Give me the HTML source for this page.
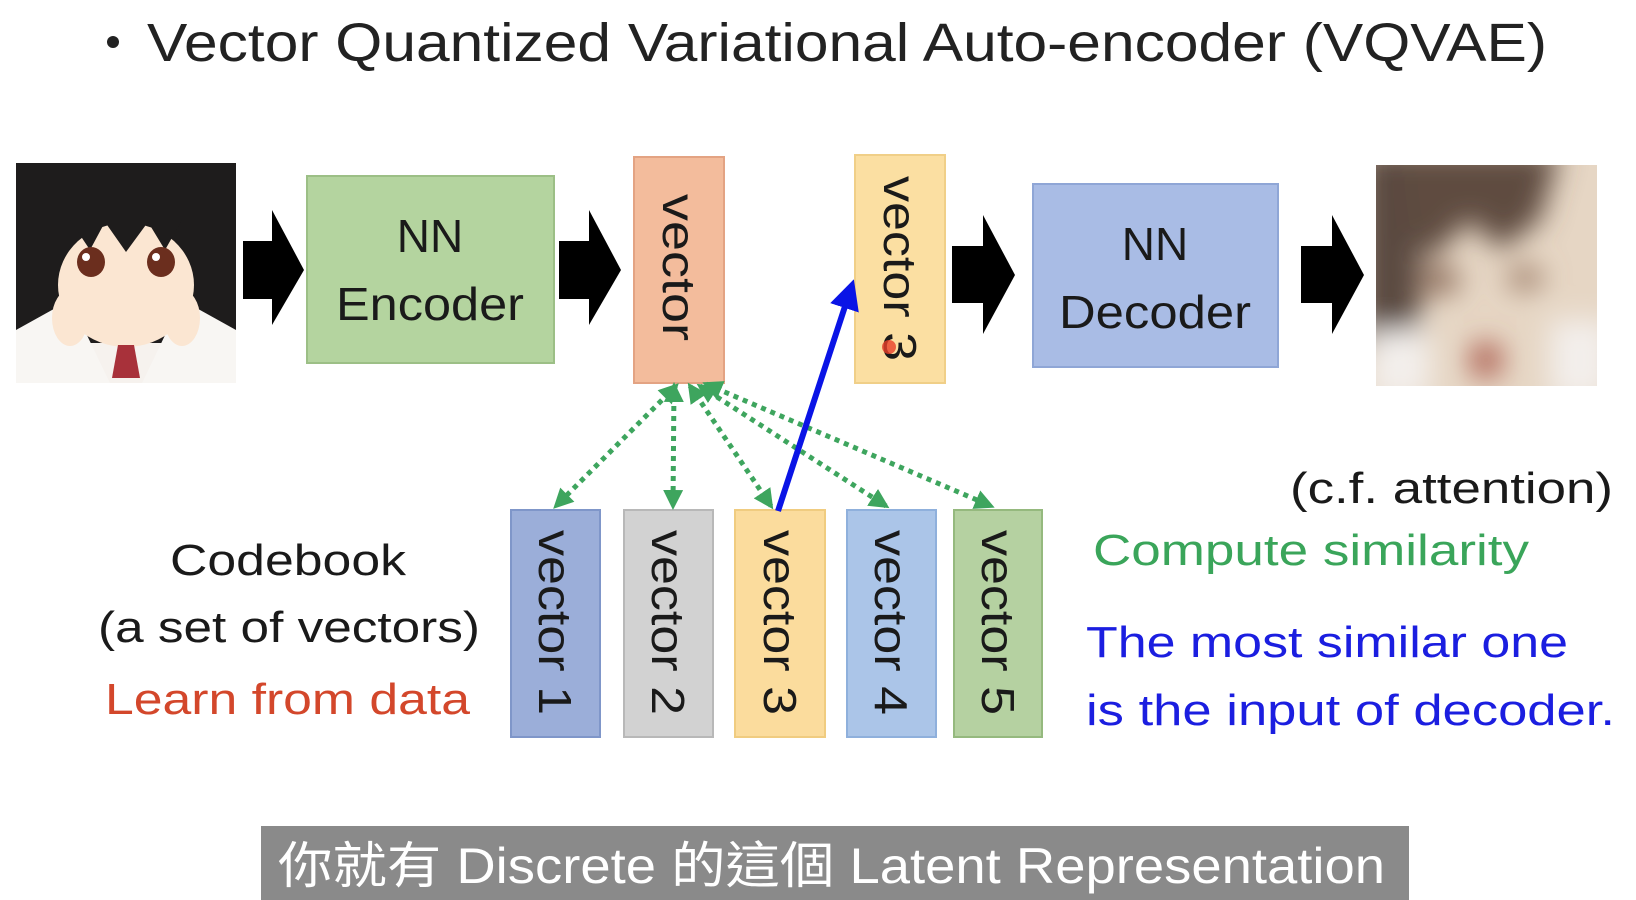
<!DOCTYPE html>
<html><head><meta charset="utf-8"><style>
html,body{margin:0;padding:0;background:#fff;}
svg{display:block;}
text{font-family:"Liberation Sans","Noto Sans CJK TC",sans-serif;}
</style></head><body>
<svg width="1636" height="900" viewBox="0 0 1636 900" xmlns="http://www.w3.org/2000/svg">
<defs>
<filter id="bl" x="-20%" y="-20%" width="140%" height="140%"><feGaussianBlur stdDeviation="14"/></filter>
<marker id="ga" viewBox="0 0 10 10" refX="8" refY="5" markerWidth="4" markerHeight="4" orient="auto-start-reverse"><path d="M0,0 L10,5 L0,10 z" fill="#3ea55e"/></marker>
<marker id="ba" viewBox="0 0 10 10" refX="8" refY="5" markerWidth="5" markerHeight="5" orient="auto"><path d="M0,0 L10,5 L0,10 z" fill="#0a14e6"/></marker>
<clipPath id="cpa"><rect x="16" y="163" width="220" height="220"/></clipPath>
<clipPath id="cp"><rect x="1376" y="165" width="221" height="221"/></clipPath>
</defs>

<!-- title -->
<circle cx="113" cy="42" r="6" fill="#222"/>
<text x="147" y="61" font-size="54" fill="#222" textLength="1400" lengthAdjust="spacingAndGlyphs">Vector Quantized Variational Auto-encoder (VQVAE)</text>

<!-- input image (approx) -->
<g clip-path="url(#cpa)">
<rect x="16" y="163" width="220" height="220" fill="#f6f2ee"/>
<rect x="16" y="163" width="220" height="180" fill="#1e1c1c"/>
<path d="M16,330 L70,300 L110,383 L16,383 Z" fill="#f8f6f3"/>
<path d="M236,330 L182,300 L142,383 L236,383 Z" fill="#f8f6f3"/>
<ellipse cx="126" cy="285" rx="68" ry="62" fill="#fbe6d2"/>
<path d="M50,240 L70,220 L90,250 L105,222 L126,252 L148,222 L165,250 L182,220 L202,240 L200,190 L52,190 Z" fill="#1e1c1c"/>
<ellipse cx="91" cy="262" rx="14" ry="15" fill="#6b2e1e"/>
<ellipse cx="161" cy="262" rx="14" ry="15" fill="#6b2e1e"/>
<circle cx="86" cy="257" r="4" fill="#fff"/>
<circle cx="156" cy="257" r="4" fill="#fff"/>
<ellipse cx="70" cy="318" rx="18" ry="28" fill="#fbe6d2"/>
<ellipse cx="182" cy="318" rx="18" ry="28" fill="#fbe6d2"/>
<path d="M118,345 L134,345 L140,378 L112,378 Z" fill="#a8313a"/>
</g>

<!-- big black arrows -->
<path d="M243,241 H272 V210 L304,270 L272,325 V299 H243 Z" fill="#000"/>
<path d="M559,241 H589 V210 L621,270 L589,325 V299 H559 Z" fill="#000"/>
<path d="M952,246 H983 V215 L1015,275 L983,334 V303 H952 Z" fill="#000"/>
<path d="M1301,246 H1332 V215 L1364,275 L1332,334 V303 H1301 Z" fill="#000"/>

<!-- encoder -->
<rect x="307" y="176" width="247" height="187" fill="#b4d49f" stroke="#9cbf86" stroke-width="2"/>
<text x="430" y="252" font-size="46" text-anchor="middle" fill="#1a1a1a">NN</text>
<text x="430" y="320" font-size="46" text-anchor="middle" fill="#1a1a1a" textLength="188" lengthAdjust="spacingAndGlyphs">Encoder</text>

<!-- vector -->
<rect x="634" y="157" width="90" height="226" fill="#f3bc9c" stroke="#e3a383" stroke-width="2"/>
<text transform="translate(679,194) rotate(90)" font-size="46" dominant-baseline="central" fill="#1a1a1a" textLength="147" lengthAdjust="spacingAndGlyphs">vector</text>

<!-- vector 3 top -->
<rect x="855" y="155" width="90" height="228" fill="#fbdfa2" stroke="#f0cf88" stroke-width="2"/>
<text transform="translate(900,176) rotate(90)" font-size="46" dominant-baseline="central" fill="#1a1a1a" textLength="185" lengthAdjust="spacingAndGlyphs">vector 3</text>
<circle cx="889" cy="347" r="7" fill="#e8402a" opacity="0.8"/>

<!-- decoder -->
<rect x="1033" y="184" width="245" height="183" fill="#a9bce5" stroke="#8fa6d6" stroke-width="2"/>
<text x="1155" y="260" font-size="46" text-anchor="middle" fill="#1a1a1a">NN</text>
<text x="1155" y="328" font-size="46" text-anchor="middle" fill="#1a1a1a" textLength="192" lengthAdjust="spacingAndGlyphs">Decoder</text>

<!-- blurry output -->
<g clip-path="url(#cp)">
<rect x="1376" y="165" width="221" height="221" fill="#e6d6c4"/>
<g filter="url(#bl)">
<rect x="1360" y="150" width="60" height="200" fill="#5a4a40"/>
<path d="M1400,150 L1560,150 L1540,220 L1500,250 L1470,220 L1430,260 L1410,230 Z" fill="#5e4c40"/>
<ellipse cx="1440" cy="280" rx="20" ry="14" fill="#8a6a58"/>
<ellipse cx="1525" cy="278" rx="18" ry="12" fill="#9a7a66"/>
<rect x="1370" y="330" width="60" height="70" fill="#f3efec"/>
<rect x="1550" y="320" width="60" height="80" fill="#f3efec"/>
<ellipse cx="1486" cy="360" rx="16" ry="18" fill="#a8564a"/>
</g></g>

<!-- codebook boxes -->
<rect x="511" y="510" width="89" height="227" fill="#9baed9" stroke="#7f96c9" stroke-width="2"/>
<rect x="624" y="510" width="89" height="227" fill="#d2d2d2" stroke="#b8b8b8" stroke-width="2"/>
<rect x="735" y="510" width="90" height="227" fill="#fbdc9d" stroke="#f0cc80" stroke-width="2"/>
<rect x="847" y="510" width="89" height="227" fill="#abc5e8" stroke="#8fb0dc" stroke-width="2"/>
<rect x="954" y="510" width="88" height="227" fill="#b5d1a1" stroke="#95b97e" stroke-width="2"/>
<g font-size="46" fill="#1a1a1a" dominant-baseline="central">
<text transform="translate(555,530) rotate(90)" textLength="185" lengthAdjust="spacingAndGlyphs">vector 1</text>
<text transform="translate(668,530) rotate(90)" textLength="185" lengthAdjust="spacingAndGlyphs">vector 2</text>
<text transform="translate(780,530) rotate(90)" textLength="185" lengthAdjust="spacingAndGlyphs">vector 3</text>
<text transform="translate(891,530) rotate(90)" textLength="185" lengthAdjust="spacingAndGlyphs">vector 4</text>
<text transform="translate(998,530) rotate(90)" textLength="185" lengthAdjust="spacingAndGlyphs">vector 5</text>
</g>

<!-- green dotted arrows -->
<g stroke="#3ea55e" stroke-width="5" stroke-dasharray="5 5" fill="none" marker-start="url(#ga)" marker-end="url(#ga)">
<line x1="676" y1="386" x2="556" y2="506"/>
<line x1="674" y1="386" x2="673" y2="506"/>
<line x1="690" y1="386" x2="771" y2="506"/>
<line x1="700" y1="386" x2="886" y2="506"/>
<line x1="706" y1="384" x2="991" y2="506"/>
</g>

<!-- blue arrow -->
<line x1="778" y1="511" x2="852" y2="285" stroke="#0a14e6" stroke-width="6" marker-end="url(#ba)"/>

<!-- labels -->
<text x="288" y="575" font-size="44" text-anchor="middle" fill="#1a1a1a" textLength="236" lengthAdjust="spacingAndGlyphs">Codebook</text>
<text x="98" y="642" font-size="44" fill="#1a1a1a" textLength="382" lengthAdjust="spacingAndGlyphs">(a set of vectors)</text>
<text x="105" y="714" font-size="44" fill="#d3472b" textLength="365" lengthAdjust="spacingAndGlyphs">Learn from data</text>
<text x="1290" y="503" font-size="44" fill="#1a1a1a" textLength="323" lengthAdjust="spacingAndGlyphs">(c.f. attention)</text>
<text x="1093" y="565" font-size="44" fill="#3aa55a" textLength="436" lengthAdjust="spacingAndGlyphs">Compute similarity</text>
<text x="1086" y="657" font-size="44" fill="#1b1ee0" textLength="482" lengthAdjust="spacingAndGlyphs">The most similar one</text>
<text x="1086" y="725" font-size="44" fill="#1b1ee0" textLength="529" lengthAdjust="spacingAndGlyphs">is the input of decoder.</text>

<!-- subtitle -->
<rect x="261" y="826" width="1148" height="74" fill="#8a8a8a"/>
<text x="278" y="883" font-size="50" fill="#fff" textLength="1107" lengthAdjust="spacingAndGlyphs">你就有 Discrete 的這個 Latent Representation</text>
</svg>
</body></html>
